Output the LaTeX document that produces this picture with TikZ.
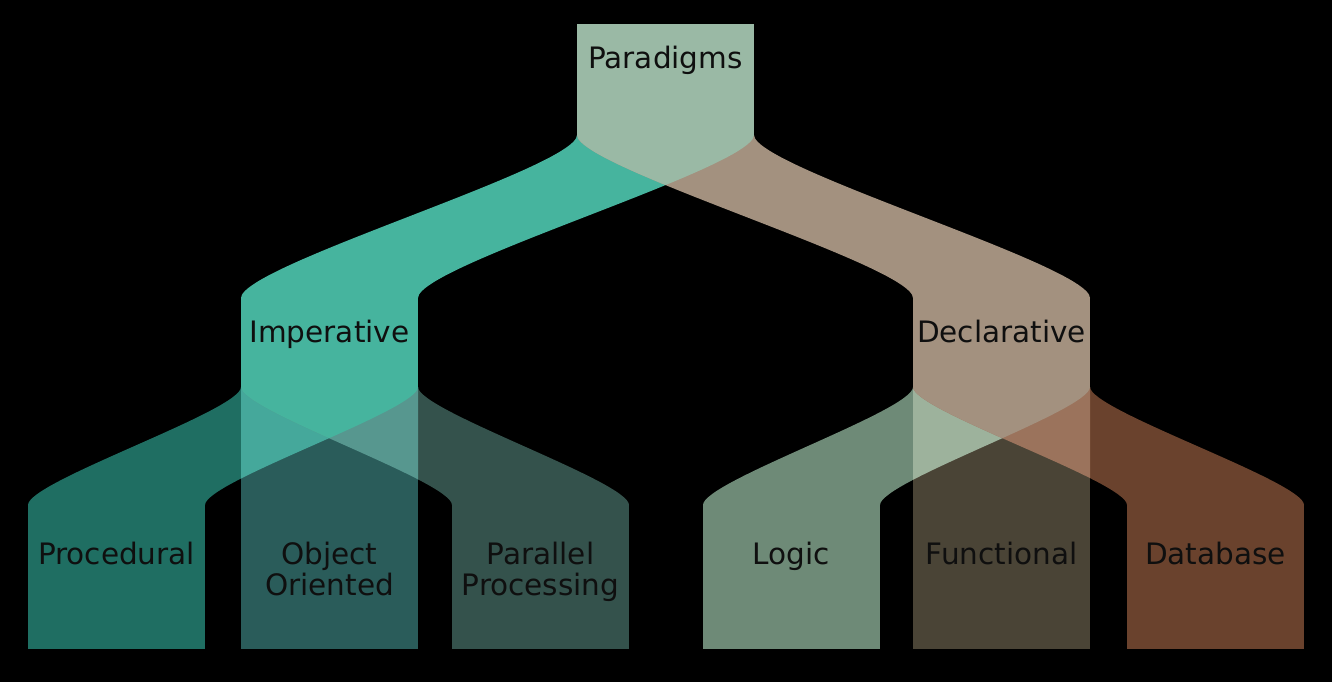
\documentclass[tikz,border=0pt]{standalone}
\usepackage{fontspec}
\setmainfont{DejaVu Sans}
\usepackage{xcolor}
\definecolor{rootcol}{HTML}{9AB9A5}
\definecolor{impcol}{HTML}{46B49E}
\definecolor{deccol}{HTML}{A3917F}
\definecolor{proccol}{HTML}{1F6E62}
\definecolor{oocol}{HTML}{2A5C5A}
\definecolor{parcol}{HTML}{34524C}
\definecolor{implcol}{HTML}{45A89B}
\definecolor{imprcol}{HTML}{57978F}
\definecolor{logcol}{HTML}{6E8A77}
\definecolor{funcol}{HTML}{4A4436}
\definecolor{dbcol}{HTML}{6A422D}
\definecolor{declcol}{HTML}{9DB29C}
\definecolor{decrcol}{HTML}{9B735C}
\definecolor{txtcol}{HTML}{0F0F0F}
% band of width #5 from (#1,#2) down to (#3,#4)
\newcommand{\flowband}[5]{(#1,#2) .. controls (#1,{#2+0.2*(#4-#2)}) and (#3,{#4-0.2*(#4-#2)}) .. (#3,#4) -- ({#3+#5},#4) .. controls ({#3+#5},{#4-0.2*(#4-#2)}) and ({#1+#5},{#2+0.2*(#4-#2)}) .. ({#1+#5},#2) -- cycle}

\begin{document}
\begin{tikzpicture}[x=1pt, y=-1pt,
  lbl/.style={text=txtcol, font=\fontsize{29.5}{31}\selectfont, align=center, anchor=base, inner sep=0pt}]
\useasboundingbox (0,0) rectangle (1332,682);
\fill[black] (0,0) rectangle (1332,682);
% top level
\fill[impcol] \flowband{577}{135}{241}{298}{177};
\fill[deccol] \flowband{577}{135}{913}{298}{177};
\begin{scope}
\clip \flowband{577}{135}{241}{298}{177};
\fill[rootcol] \flowband{577}{135}{913}{298}{177};
\end{scope}
\fill[rootcol] (577,24) rectangle (754,135.5);
\fill[impcol] (241,297.5) rectangle (418,387.5);
\fill[deccol] (913,297.5) rectangle (1090,387.5);
% second level
\foreach \cx/\lx/\rx/\ca/\cb/\cc/\cd/\ce/\cf in {241/28/452/proccol/oocol/parcol/implcol/imprcol/impcol, 913/703/1127/logcol/funcol/dbcol/declcol/decrcol/deccol}
{
\fill[\ca] \flowband{\cx}{387}{\lx}{505}{177};
\fill[\ca] (\lx,504.5) rectangle ({\lx+177},649);
\fill[\cc] \flowband{\cx}{387}{\rx}{505}{177};
\fill[\cc] (\rx,504.5) rectangle ({\rx+177},649);
\fill[\cb] (\cx,387) rectangle ({\cx+177},649);
\begin{scope}
\clip (\cx,387) rectangle ({\cx+177},649);
\fill[\cd] \flowband{\cx}{387}{\lx}{505}{177};
\fill[\ce] \flowband{\cx}{387}{\rx}{505}{177};
\clip \flowband{\cx}{387}{\lx}{505}{177};
\fill[\cf] \flowband{\cx}{387}{\rx}{505}{177};
\end{scope}
}
\node[lbl] (paradigms) at (665.5,69) {Paradigms};
\node[lbl] (imperative) at (329.5,342) {Imperative};
\node[lbl] (declarative) at (1001.5,342) {Declarative};
\node[lbl] (procedural) at (116.5,564) {Procedural};
\node[lbl] (objoriented) at (329.5,595) {Object\\Oriented};
\node[lbl] (parallel) at (540.5,595) {Parallel\\Processing};
\node[lbl] (logic) at (791.5,564) {Logic};
\node[lbl] (functional) at (1001.5,564) {Functional};
\node[lbl] (database) at (1215.5,564) {Database};
\end{tikzpicture}
\end{document}
